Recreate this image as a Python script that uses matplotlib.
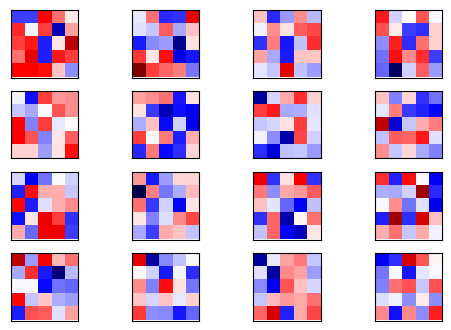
import numpy as np
import matplotlib
matplotlib.use('Agg')
import matplotlib.pyplot as plt

# 16 filters, 5x5 each (seismic, -1..1)
w00 = [[-0.38, -0.38, 0.50, 0.28, 0.04],
       [0.42, -0.03, 0.38, -0.70, 0.18],
       [0.38, 0.45, -0.44, 0.05, 0.75],
       [0.28, 0.60, -0.44, 0.45, 0.38],
       [0.50, 0.50, 0.47, 0.12, -0.22]]
w01 = [[-0.04, 0.28, -0.42, -0.40, 0.57],
       [-0.06, -0.11, 0.32, -0.17, 0.12],
       [-0.45, -0.23, -0.19, -0.82, 0.06],
       [0.39, 0.05, 0.47, -0.58, -0.46],
       [1.00, 0.38, 0.30, 0.25, -0.27]]
w02 = [[0.12, -0.42, -0.20, 0.22, -0.14],
       [-0.03, 0.22, 0.06, 0.32, 0.36],
       [-0.40, 0.25, -0.46, -0.12, 0.41],
       [0.18, -0.17, -0.45, 0.11, 0.11],
       [-0.05, -0.11, 0.60, -0.12, -0.19]]
w03 = [[0.45, -0.09, 0.00, 0.33, -0.01],
       [0.34, 0.04, -0.38, -0.41, 0.09],
       [-0.22, 0.44, -0.41, 0.28, 0.09],
       [-0.28, 0.47, 0.23, 0.41, -0.38],
       [-0.30, -0.95, -0.09, 0.32, -0.20]]
w10 = [[-0.03, -0.47, 0.38, 0.20, 0.22],
       [-0.11, -0.17, -0.01, 0.33, 0.22],
       [0.50, -0.25, 0.38, -0.04, 0.01],
       [0.50, 0.34, -0.25, 0.05, 0.32],
       [0.09, 0.09, -0.19, 0.06, 0.47]]
w11 = [[0.18, 0.22, 0.28, -0.46, 0.06],
       [0.06, -0.39, -0.70, -0.47, -0.52],
       [-0.16, 0.12, -0.48, -0.09, -0.55],
       [0.38, 0.01, 0.26, -0.44, 0.16],
       [-0.42, 0.26, -0.48, -0.41, 0.08]]
w12 = [[-0.77, -0.08, 0.17, 0.41, 0.09],
       [0.38, 0.45, -0.17, -0.16, -0.06],
       [-0.11, -0.08, 0.06, 0.38, -0.05],
       [-0.03, -0.22, -0.73, 0.36, -0.09],
       [-0.41, -0.60, -0.12, -0.11, -0.20]]
w13 = [[0.12, -0.25, 0.08, -0.40, -0.28],
       [-0.05, 0.25, -0.39, -0.43, -0.49],
       [0.75, -0.63, -0.11, 0.16, 0.25],
       [-0.12, 0.32, 0.30, 0.45, -0.06],
       [0.22, -0.11, 0.08, -0.17, -0.25]]
w20 = [[-0.08, -0.51, -0.28, -0.01, -0.09],
       [-0.43, 0.47, 0.16, 0.16, -0.11],
       [0.49, -0.44, -0.06, 0.16, 0.22],
       [-0.47, 0.05, 0.57, 0.38, -0.40],
       [0.17, -0.29, 0.55, 0.57, -0.38]]
w21 = [[0.20, -0.45, -0.19, 0.08, 0.08],
       [-1.00, 0.25, -0.27, -0.16, 0.14],
       [0.28, -0.39, -0.09, -0.50, 0.05],
       [0.05, -0.25, -0.07, 0.23, 0.36],
       [-0.17, -0.38, 0.17, 0.12, -0.12]]
w22 = [[0.55, -0.40, 0.06, 0.52, -0.40],
       [0.26, -0.22, 0.17, 0.20, 0.32],
       [0.12, -0.05, -0.30, -0.53, -0.12],
       [-0.40, 0.30, -0.73, 0.02, 0.28],
       [-0.12, 0.30, -0.50, -0.70, 0.05]]
w23 = [[0.41, -0.43, 0.47, -0.01, -0.53],
       [-0.16, -0.17, -0.09, 0.87, -0.42],
       [-0.01, 0.22, -0.28, -0.06, -0.55],
       [-0.44, 0.87, -0.41, 0.65, 0.12],
       [0.16, 0.28, -0.11, 0.17, -0.03]]
w30 = [[0.75, -0.20, 0.52, 0.14, 0.28],
       [-0.17, 0.41, -0.45, -0.88, -0.14],
       [-0.01, -0.01, -0.48, -0.28, -0.30],
       [0.49, -0.11, 0.11, -0.16, -0.19],
       [-0.44, 0.34, 0.32, -0.06, 0.18]]
w31 = [[0.60, -0.76, -0.23, -0.12, -0.01],
       [0.02, -0.09, -0.45, -0.02, -0.41],
       [0.22, -0.25, 0.47, 0.06, -0.27],
       [0.11, -0.08, 0.11, -0.04, 0.09],
       [0.39, -0.22, -0.23, -0.46, -0.30]]
w32 = [[-0.77, -0.04, 0.18, 0.26, -0.11],
       [-0.06, -0.76, 0.23, 0.18, -0.19],
       [-0.23, -0.55, 0.33, 0.12, -0.08],
       [-0.11, 0.14, 0.20, 0.17, 0.28],
       [0.30, 0.65, -0.43, 0.17, 0.36]]
w33 = [[-0.53, -0.41, 0.65, 0.33, 0.02],
       [-0.27, -0.01, -0.46, -0.05, -0.01],
       [-0.25, 0.28, 0.34, -0.11, 0.34],
       [-0.07, -0.03, -0.22, 0.04, -0.22],
       [0.23, -0.47, 0.23, -0.22, 0.44]]

filters = [w00, w01, w02, w03, w10, w11, w12, w13,
           w20, w21, w22, w23, w30, w31, w32, w33]

W, H = 451, 330
col_left = [10.5, 131.5, 253, 374.5]   # px from left
row_top = [10, 91, 172, 253]           # px from top
size = 67.5

fig = plt.figure(figsize=(W / 100, H / 100), dpi=100)
for i, w in enumerate(filters):
    r, c = divmod(i, 4)
    ax = fig.add_axes((col_left[c] / W, 1 - (row_top[r] + size) / H,
                       size / W, size / H))
    ax.imshow(np.array(w), cmap='seismic', vmin=-1, vmax=1)
    ax.set_xticks([])
    ax.set_yticks([])

plt.savefig('out.png', dpi=100)
